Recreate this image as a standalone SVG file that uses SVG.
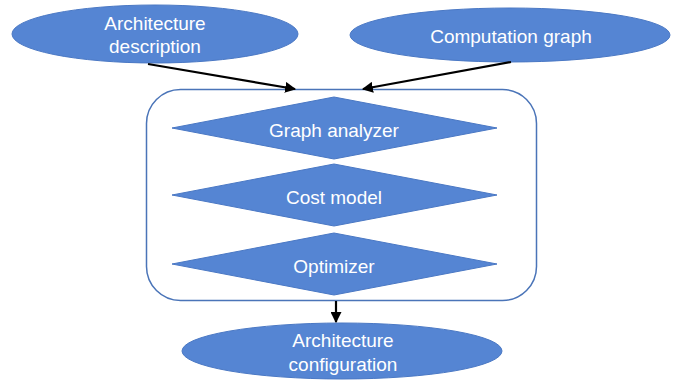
<svg xmlns="http://www.w3.org/2000/svg" width="694" height="381" viewBox="0 0 694 381">
  <style>
    .shape { fill: #5585d3; stroke: #4a78c4; stroke-width: 1; }
    .frame { fill: #ffffff; stroke: #4a74b8; stroke-width: 1.5; }
    .label { font-family: "Liberation Sans", Arial, sans-serif; font-size: 19px; fill: #ffffff; text-anchor: middle; }
    .link { stroke: #000000; stroke-width: 2.2; fill: none; marker-end: url(#head); }
  </style>
  <defs>
    <marker id="head" viewBox="0 0 10 10" refX="9" refY="5" markerWidth="5" markerHeight="5" orient="auto" markerUnits="strokeWidth">
      <path d="M0,0 L10,5 L0,10 Z" fill="#000000"/>
    </marker>
  </defs>

  <rect width="694" height="381" fill="#ffffff"/>

  <!-- Inputs -->
  <g id="arch-description">
    <ellipse class="shape" cx="155" cy="34" rx="143" ry="29"/>
    <text class="label" x="155" y="30">Architecture</text>
    <text class="label" x="155" y="53">description</text>
  </g>
  <g id="computation-graph">
    <ellipse class="shape" cx="510" cy="35" rx="160" ry="27"/>
    <text class="label" x="511" y="43">Computation graph</text>
  </g>

  <!-- Processing pipeline container -->
  <g id="pipeline">
    <rect class="frame" x="146.5" y="89.5" width="390" height="211" rx="34" ry="34"/>
  </g>
  <g id="graph-analyzer">
    <polygon class="shape" points="172,128 334,97 497,128 334,159"/>
    <text class="label" x="334" y="137">Graph analyzer</text>
  </g>
  <g id="cost-model">
    <polygon class="shape" points="172,195 334,164 497,195 334,226"/>
    <text class="label" x="334" y="204">Cost model</text>
  </g>
  <g id="optimizer">
    <polygon class="shape" points="172,264 334,233 497,264 334,295"/>
    <text class="label" x="334" y="273">Optimizer</text>
  </g>

  <!-- Output -->
  <g id="arch-configuration">
    <ellipse class="shape" cx="342" cy="351" rx="160" ry="28"/>
    <text class="label" x="343" y="347">Architecture</text>
    <text class="label" x="343" y="371">configuration</text>
  </g>

  <!-- Connectors -->
  <g id="connectors">
    <line class="link" x1="148" y1="64" x2="295" y2="89"/>
    <line class="link" x1="511" y1="62" x2="363" y2="89"/>
    <line class="link" x1="336" y1="301" x2="336" y2="322"/>
  </g>
</svg>
